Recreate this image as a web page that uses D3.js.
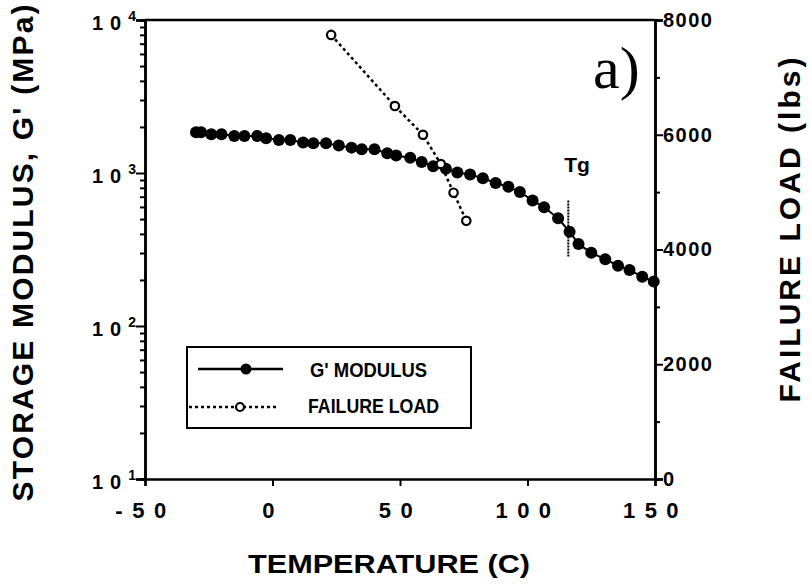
<!DOCTYPE html>
<html>
<head>
<meta charset="utf-8">
<script src="https://cdn.jsdelivr.net/npm/d3@7"></script>
<style>
  body { margin: 0; background: #fff; }
  text { font-family: "Liberation Sans", Arial, sans-serif; font-weight: bold; fill: #000; }
</style>
</head>
<body>
<svg id="chart" width="811" height="587"></svg>
<script>
// G' modulus (log, left axis) and failure load (linear, right axis) vs temperature

const modTemp = [-30, -28, -24, -20, -15, -11, -6, -2.5, 2.5, 7, 12, 16, 21, 26, 31, 35, 40, 45, 48.5,
    54, 58.5, 63, 68, 72.5, 77.5, 82.5, 87.5, 92.5, 97, 102, 106.5, 112, 116.5, 120, 125, 130.5,
    135.5, 140, 145, 149.5];
const modValue = [1845, 1845, 1790, 1790, 1746, 1746, 1746, 1690, 1644, 1644, 1580, 1565, 1565, 1510,
    1465, 1430, 1430, 1345, 1300, 1256, 1180, 1107, 1067, 1007, 977, 923, 861, 813, 751, 662, 597,
    506, 413, 344, 301, 273, 248, 232, 210, 195];

const loadTemp = [23, 48, 59, 66, 71, 76];
const loadValue = [7740, 6500, 6000, 5490, 4990, 4500];

const tempTicks = [-50, 0, 50, 100, 150];
const modTicks = [10, 100, 1000, 10000];
const loadTicks = [0, 2000, 4000, 6000, 8000];
const loadMinor = [1000, 3000, 5000, 7000];

const tgTemp = 116;
const tgRange = [285, 665];

class DualChart {

    constructor(parentElement) {
        this.parentElement = parentElement;
        this.initVis();
    }

    initVis() {
        let vis = this;

        vis.margin = { top: 20, right: 156, bottom: 108, left: 145 };
        vis.width = 811 - vis.margin.left - vis.margin.right;
        vis.height = 587 - vis.margin.top - vis.margin.bottom;

        vis.root = d3.select(vis.parentElement);
        vis.svg = vis.root.append("g")
            .attr("transform", `translate(${vis.margin.left},${vis.margin.top})`);

        vis.x = d3.scaleLinear().domain([-50, 150]).range([0, vis.width]);
        vis.y = d3.scaleLog().domain([10, 10000]).range([vis.height, 0]);
        vis.yR = d3.scaleLinear().domain([0, 8000]).range([vis.height, 0]);

        // minor log ticks
        let minors = [];
        modTicks.slice(0, -1).forEach(p => { for (let k = 2; k <= 9; k++) minors.push(p * k); });

        vis.svg.append("g").attr("class", "axis")
            .call(d3.axisLeft(vis.y).tickValues(minors).tickSize(5).tickFormat(""));
        vis.svg.append("g").attr("class", "axis")
            .call(d3.axisLeft(vis.y).tickValues(modTicks).tickSize(9).tickFormat(""));

        // left tick labels 10^n
        modTicks.forEach(d => {
            let t = vis.svg.append("text")
                .attr("x", -9)
                .attr("y", vis.y(d) + 10)
                .attr("text-anchor", "end")
                .style("font-size", "20px");
            t.append("tspan").style("letter-spacing", "7px").text("10");
            t.append("tspan").attr("dy", -9).style("font-size", "14px").text(Math.log10(d));
        });

        vis.svg.append("g").attr("class", "axis")
            .attr("transform", `translate(0,${vis.height})`)
            .call(d3.axisBottom(vis.x).tickValues(tempTicks).tickSize(7).tickPadding(16)
                .tickFormat(d => String(d)))
            .selectAll("text")
            .style("font-size", "22px")
            .style("letter-spacing", "9.5px");

        vis.svg.append("g").attr("class", "axis")
            .attr("transform", `translate(${vis.width},0)`)
            .call(d3.axisRight(vis.yR).tickValues(loadMinor).tickSize(5).tickFormat(""));
        vis.svg.append("g").attr("class", "axis")
            .attr("transform", `translate(${vis.width},0)`)
            .call(d3.axisRight(vis.yR).tickValues(loadTicks).tickSize(8).tickPadding(0)
                .tickFormat(d => String(d)))
            .selectAll("text")
            .style("font-size", "20px")
            .style("letter-spacing", "1.5px");

        // top border
        vis.svg.append("line")
            .attr("x1", 0).attr("x2", vis.width)
            .attr("y1", 0).attr("y2", 0)
            .attr("stroke", "#000").attr("stroke-width", 2.5);

        vis.svg.selectAll(".axis path").attr("stroke-width", 2.5);
        vis.svg.selectAll(".axis line").attr("stroke-width", 2);

        // axis titles
        vis.root.append("text")
            .attr("transform", "translate(33,253) rotate(-90)")
            .attr("text-anchor", "middle")
            .attr("textLength", 497).attr("lengthAdjust", "spacing")
            .style("font-size", "30px")
            .text("STORAGE MODULUS,  G'  (MPa)");

        vis.root.append("text")
            .attr("transform", "translate(800,230) rotate(-90)")
            .attr("text-anchor", "middle")
            .attr("textLength", 345).attr("lengthAdjust", "spacing")
            .style("font-size", "30px")
            .text("FAILURE  LOAD  (lbs)");

        vis.root.append("text")
            .attr("x", 389).attr("y", 573)
            .attr("text-anchor", "middle")
            .attr("textLength", 282).attr("lengthAdjust", "spacingAndGlyphs")
            .style("font-size", "26px")
            .text("TEMPERATURE (C)");

        vis.root.append("text")
            .attr("x", 593).attr("y", 88)
            .style("font-family", "'Liberation Serif', 'Times New Roman', serif")
            .style("font-weight", "normal")
            .style("font-size", "60px")
            .text("a)");

        vis.updateVis();
    }

    updateVis() {
        let vis = this;

        let modData = modTemp.map((t, i) => ({ t: t, v: modValue[i] }));
        let loadData = loadTemp.map((t, i) => ({ t: t, v: loadValue[i] }));

        // G' modulus
        vis.svg.append("path")
            .datum(modData)
            .attr("fill", "none")
            .attr("stroke", "#000")
            .attr("stroke-width", 2)
            .attr("d", d3.line().x(d => vis.x(d.t)).y(d => vis.y(d.v)));

        vis.svg.selectAll(".mod")
            .data(modData)
            .enter().append("circle")
            .attr("class", "mod")
            .attr("cx", d => vis.x(d.t))
            .attr("cy", d => vis.y(d.v))
            .attr("r", 6)
            .attr("fill", "#000");

        // failure load
        vis.svg.append("path")
            .datum(loadData)
            .attr("fill", "none")
            .attr("stroke", "#000")
            .attr("stroke-width", 2.5)
            .attr("stroke-dasharray", "3,3")
            .attr("d", d3.line().x(d => vis.x(d.t)).y(d => vis.yR(d.v)));

        vis.svg.selectAll(".load")
            .data(loadData)
            .enter().append("circle")
            .attr("class", "load")
            .attr("cx", d => vis.x(d.t))
            .attr("cy", d => vis.yR(d.v))
            .attr("r", 4.2)
            .attr("fill", "#fff")
            .attr("stroke", "#000")
            .attr("stroke-width", 2.2);

        // Tg marker
        vis.svg.append("line")
            .attr("x1", vis.x(tgTemp)).attr("x2", vis.x(tgTemp))
            .attr("y1", vis.y(tgRange[0])).attr("y2", vis.y(tgRange[1]))
            .attr("stroke", "#000")
            .attr("stroke-width", 2)
            .attr("stroke-dasharray", "2,1");

        vis.svg.append("text")
            .attr("x", vis.x(tgTemp) - 4)
            .attr("y", vis.y(tgRange[1]) - 28)
            .style("font-size", "21px")
            .text("Tg");

        // legend
        let lg = vis.root.append("g").attr("transform", "translate(187,347)");
        lg.append("rect")
            .attr("width", 284).attr("height", 81)
            .attr("fill", "none").attr("stroke", "#000").attr("stroke-width", 2);

        lg.append("line").attr("x1", 11).attr("x2", 96).attr("y1", 22).attr("y2", 22)
            .attr("stroke", "#000").attr("stroke-width", 2.5);
        lg.append("circle").attr("cx", 59).attr("cy", 22).attr("r", 5.5).attr("fill", "#000");
        lg.append("text").attr("x", 123).attr("y", 30)
            .attr("textLength", 117).attr("lengthAdjust", "spacingAndGlyphs")
            .style("font-size", "20px").text("G' MODULUS");

        lg.append("line").attr("x1", 2).attr("x2", 90).attr("y1", 60).attr("y2", 60)
            .attr("stroke", "#000").attr("stroke-width", 2.5).attr("stroke-dasharray", "3,3");
        lg.append("circle").attr("cx", 53).attr("cy", 60).attr("r", 4)
            .attr("fill", "#fff").attr("stroke", "#000").attr("stroke-width", 2.2);
        lg.append("text").attr("x", 121).attr("y", 66)
            .attr("textLength", 131).attr("lengthAdjust", "spacingAndGlyphs")
            .style("font-size", "20px").text("FAILURE LOAD");
    }
}

new DualChart("#chart");
</script>
</body>
</html>
